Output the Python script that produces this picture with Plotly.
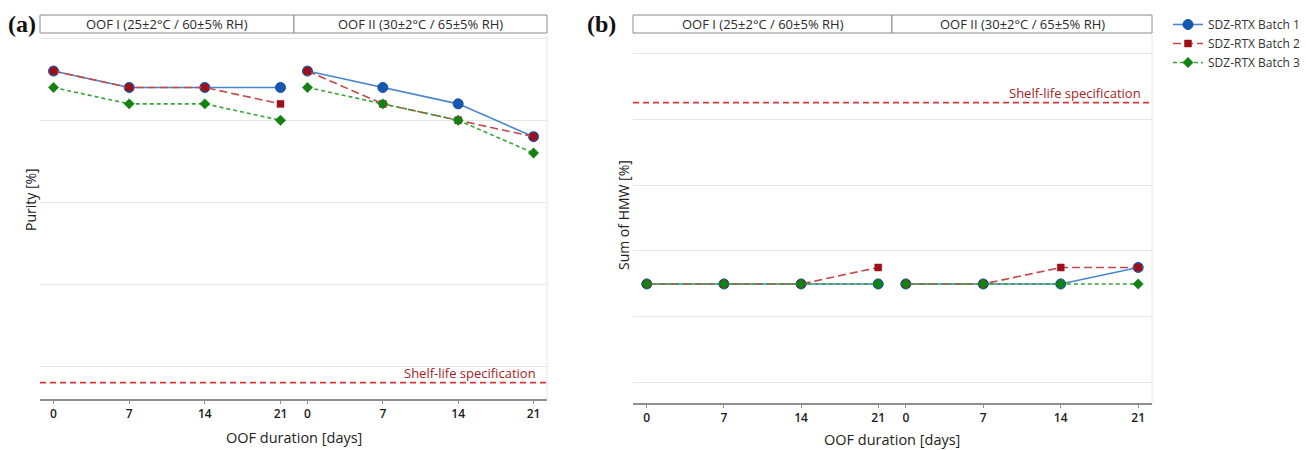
import plotly.graph_objects as go

W, H = 1306, 450

days = [0, 7, 14, 21]
tick_labels = ["0", "7", "14", "21"]
batches = ["SDZ-RTX Batch 1", "SDZ-RTX Batch 2", "SDZ-RTX Batch 3"]
conditions = ["OOF I (25±2°C / 60±5% RH)", "OOF II (30±2°C / 65±5% RH)"]

# Panel (a): Purity [%]
purity_oof1_b1 = [99.6, 99.4, 99.4, 99.4]
purity_oof1_b2 = [99.6, 99.4, 99.4, 99.2]
purity_oof1_b3 = [99.4, 99.2, 99.2, 99.0]
purity_oof2_b1 = [99.6, 99.4, 99.2, 98.8]
purity_oof2_b2 = [99.6, 99.2, 99.0, 98.8]
purity_oof2_b3 = [99.4, 99.2, 99.0, 98.6]
purity_spec = 95.8

# Panel (b): Sum of HMW [%]
hmw_oof1_b1 = [0.70, 0.70, 0.70, 0.70]
hmw_oof1_b2 = [0.70, 0.70, 0.70, 0.75]
hmw_oof1_b3 = [0.70, 0.70, 0.70, 0.70]
hmw_oof2_b1 = [0.70, 0.70, 0.70, 0.75]
hmw_oof2_b2 = [0.70, 0.70, 0.75, 0.75]
hmw_oof2_b3 = [0.70, 0.70, 0.70, 0.70]
hmw_spec = 1.25

FONT = "Open Sans"

def px(x):
    return x / W

def py(y):
    return 1 - y / H

styles = [
    dict(line=dict(color="#4a86cf", width=1.6, dash="solid"),
         marker=dict(symbol="circle", size=10, color="#1558b0", line=dict(color="#1a4f9c", width=1))),
    dict(line=dict(color="#c4474a", width=1.6, dash="8px,4px"),
         marker=dict(symbol="square", size=7, color="#9e1018", line=dict(color="#9e1018", width=0.5))),
    dict(line=dict(color="#36a336", width=1.6, dash="4px,3px"),
         marker=dict(symbol="diamond", size=8, color="#128212", line=dict(color="#128212", width=0.5))),
]

fig = go.Figure()

panel_data = [
    ("x", "y", [purity_oof1_b1, purity_oof1_b2, purity_oof1_b3]),
    ("x2", "y", [purity_oof2_b1, purity_oof2_b2, purity_oof2_b3]),
    ("x3", "y2", [hmw_oof1_b1, hmw_oof1_b2, hmw_oof1_b3]),
    ("x4", "y2", [hmw_oof2_b1, hmw_oof2_b2, hmw_oof2_b3]),
]

for bi, name in enumerate(batches):
    for pi, (xa, ya, series) in enumerate(panel_data):
        fig.add_trace(go.Scatter(
            x=days, y=series[bi], xaxis=xa, yaxis=ya,
            mode="lines+markers", name=name, legendgroup=name,
            showlegend=(pi == 0),
            line=styles[bi]["line"], marker=styles[bi]["marker"],
            hoverinfo="x+y+name",
        ))

# geometry (pixels)
a_left, a_mid, a_right, a_top, a_bot = 40, 294, 547, 35, 399
b_left, b_mid, b_right, b_top, b_bot = 633, 892, 1152, 35, 403

xcommon = dict(range=[-1.25, 22.25], tickvals=days, ticktext=tick_labels,
               showline=True, linecolor="#8f8f8f", linewidth=2,
               ticks="outside", ticklen=3, tickcolor="#8f8f8f", tickwidth=1,
               showgrid=False, zeroline=False, fixedrange=True,
               tickfont=dict(family=FONT, size=12, color="#1a1a1a", weight=600))

fig.update_layout(
    width=W, height=H, margin=dict(l=0, r=0, t=0, b=0),
    paper_bgcolor="white", plot_bgcolor="white",
    font=dict(family=FONT, color="#333"),
    xaxis=dict(domain=[px(a_left), px(a_mid)], anchor="y", **xcommon),
    xaxis2=dict(domain=[px(a_mid), px(a_right)], anchor="y", **xcommon),
    xaxis3=dict(domain=[px(b_left), px(b_mid)], anchor="y2", **xcommon),
    xaxis4=dict(domain=[px(b_mid), px(b_right)], anchor="y2", **xcommon),
    yaxis=dict(domain=[py(a_bot), py(a_top)], anchor="x", range=[95.6, 100.04],
               tickvals=[96, 97, 98, 99, 100], showticklabels=False,
               showgrid=True, gridcolor="#e6e6e6", gridwidth=1, zeroline=False,
               showline=False, ticks=""),
    yaxis2=dict(domain=[py(b_bot), py(b_top)], anchor="x3", range=[0.339, 1.455],
                tickvals=[0.4, 0.6, 0.8, 1.0, 1.2, 1.4], showticklabels=False,
                showgrid=True, gridcolor="#e6e6e6", gridwidth=1, zeroline=False,
                showline=False, ticks=""),
    legend=dict(x=px(1168), y=py(10), xanchor="left", yanchor="top",
                font=dict(family=FONT, size=12, color="#333"),
                bgcolor="rgba(0,0,0,0)", itemwidth=30, tracegroupgap=0),
    showlegend=True,
)

shapes = []
annotations = []

# header strips
for (l, m, r) in [(a_left, a_mid, a_right), (b_left, b_mid, b_right)]:
    for (x0, x1), txt in zip([(l, m), (m, r)], conditions):
        shapes.append(dict(type="rect", xref="paper", yref="paper",
                           x0=px(x0), x1=px(x1), y0=py(33), y1=py(15),
                           line=dict(color="#8a8a8a", width=1), fillcolor="white"))
        annotations.append(dict(xref="paper", yref="paper", x=px((x0 + x1) / 2), y=py(24),
                                text=txt, showarrow=False, xanchor="center", yanchor="middle",
                                font=dict(family=FONT, size=13, color="#2a2a2a")))
    # faint right border
    shapes.append(dict(type="line", xref="paper", yref="paper",
                       x0=px(r), x1=px(r), y0=py(a_bot if l == a_left else b_bot), y1=py(35),
                       line=dict(color="#e6e6e6", width=1)))

# shelf-life specification lines
for yref, spec, l, r in [("y", purity_spec, a_left, a_right), ("y2", hmw_spec, b_left, b_right)]:
    shapes.append(dict(type="line", xref="paper", yref=yref,
                       x0=px(l), x1=px(r), y0=spec, y1=spec,
                       line=dict(color="#d9343a", width=1.6, dash="6px,4px")))
    annotations.append(dict(xref="paper", yref=yref, x=px(r - 9), y=spec,
                            text="Shelf-life specification", showarrow=False,
                            xanchor="right", yanchor="bottom", yshift=-1,
                            font=dict(family=FONT, size=13, color="#a51b22")))

# panel labels
annotations.append(dict(xref="paper", yref="paper", x=px(22), y=py(24), text="<b>(a)</b>",
                        showarrow=False, xanchor="center", yanchor="middle",
                        font=dict(family="Liberation Serif", size=24, color="#111")))
annotations.append(dict(xref="paper", yref="paper", x=px(601), y=py(24), text="<b>(b)</b>",
                        showarrow=False, xanchor="center", yanchor="middle",
                        font=dict(family="Liberation Serif", size=24, color="#111")))

# axis titles
annotations.append(dict(xref="paper", yref="paper", x=px(30), y=py(200), text="Purity [%]",
                        showarrow=False, textangle=-90, xanchor="center", yanchor="middle",
                        font=dict(family=FONT, size=14, color="#222")))
annotations.append(dict(xref="paper", yref="paper", x=px(623), y=py(215), text="Sum of HMW [%]",
                        showarrow=False, textangle=-90, xanchor="center", yanchor="middle",
                        font=dict(family=FONT, size=14, color="#222")))
annotations.append(dict(xref="paper", yref="paper", x=px((a_left + a_right) / 2), y=py(437),
                        text="OOF duration [days]", showarrow=False, xanchor="center", yanchor="middle",
                        font=dict(family=FONT, size=14.5, color="#222")))
annotations.append(dict(xref="paper", yref="paper", x=px((b_left + b_right) / 2), y=py(439),
                        text="OOF duration [days]", showarrow=False, xanchor="center", yanchor="middle",
                        font=dict(family=FONT, size=14.5, color="#222")))

fig.update_layout(shapes=shapes, annotations=annotations)

fig.write_html("out.html")
